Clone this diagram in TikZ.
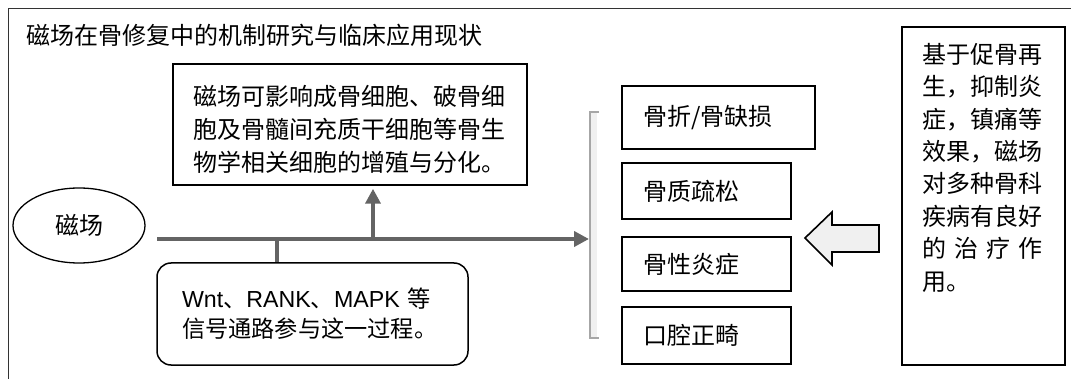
\documentclass[tikz,border=0pt]{standalone}
\usepackage{fontspec}
\setmainfont{Noto Sans CJK SC}
\newfontfamily\lat{Liberation Sans}
\usetikzlibrary{arrows.meta,shapes.geometric}
\definecolor{conncol}{RGB}{100,100,100}
\definecolor{arrowfill}{RGB}{240,240,240}
\begin{document}
\begin{tikzpicture}[x=1pt,y=-1pt,
  txt/.style={font=\fontsize{24}{33}\selectfont},
  box/.style={draw=black, line width=1.5pt, txt},
  conn/.style={draw=conncol, line width=4pt},
  tipped/.style={-{Triangle[length=15pt,width=15pt]}}]
\useasboundingbox (0,0) rectangle (1071,379);

% outer frame
\draw[line width=1pt, black!80] (8,379) -- (8,9) -- (1071,9);

% title
\node[txt, anchor=west, inner sep=0] (title) at (26,35) {磁场在骨修复中的机制研究与临床应用现状};

% ellipse
\node[draw=black, line width=1.3pt, ellipse, minimum width=132pt, minimum height=75pt, txt, inner sep=0] (ell) at (79,225.5) {磁场};

% top box
\node[box, minimum width=354pt, minimum height=121pt, inner sep=0] (topbox) at (350,124.5) {};
\node[txt, anchor=north west, align=left, inner sep=0] (toptext) at (193,85)
  {磁场可影响成骨细胞、破骨细\\胞及骨髓间充质干细胞等骨生\\物学相关细胞的增殖与分化。};

% bottom rounded box
\node[box, rounded corners=14pt, minimum width=311pt, minimum height=102pt,
      text width=261pt, align=left, font=\fontsize{23.2}{30}\selectfont] (botbox) at (312.5,314)
  {{\lat Wnt}、{\lat RANK}、{\lat MAPK }等\\信号通路参与这一过程。};

% connectors
\coordinate (start) at (157,239);
\coordinate (brk) at (589,239);
\coordinate (j1) at (373,239);
\coordinate (j2) at (277,239);
\draw[conn] (j2) -- (j2 |- botbox.north);
\draw[conn, tipped, shorten >=3pt] (j1) -- (j1 |- topbox.south);
\draw[conn, tipped] (start) -- (brk);

% bracket
\fill[gray!12] (590,112) rectangle (597,338);
\draw[gray!70, line width=1.3pt] (599,112) -| (590,338) -- (599,338);

% disease boxes
\node[box, minimum width=193pt, minimum height=63pt, text width=151pt, align=left, inner xsep=21pt] (b1) at (718.5,117.5) {骨折/骨缺损};
\node[box, minimum width=169pt, minimum height=56pt, text width=127pt, align=left, inner xsep=21pt] (b2) at (706.5,191) {骨质疏松};
\node[box, minimum width=169pt, minimum height=54pt, text width=127pt, align=left, inner xsep=21pt] (b3) at (706.5,264) {骨性炎症};
\node[box, minimum width=169pt, minimum height=57pt, text width=127pt, align=left, inner xsep=21pt] (b4) at (706.5,335.5) {口腔正畸};

% right box
\node[box, minimum width=163pt, minimum height=338pt, inner sep=0] (rbox) at (983.5,196) {};
\node[anchor=north west, align=left, inner sep=0, text width=120pt,
      font=\fontsize{24}{32.4}\selectfont] (rtext) at (922,43)
  {基于促骨再\\生，抑制炎\\症，镇痛等\\效果，磁场\\对多种骨科\\疾病有良好\\\makebox[120pt][s]{的\hfill 治\hfill 疗\hfill 作}\\用。};

% big hollow arrow
\draw[line width=1.6pt, fill=arrowfill, line join=miter]
  (805,238) -- (832,212) -- (832,225) -- (879,225) -- (879,252) -- (832,252) -- (832,265) -- cycle;
\end{tikzpicture}
\end{document}
